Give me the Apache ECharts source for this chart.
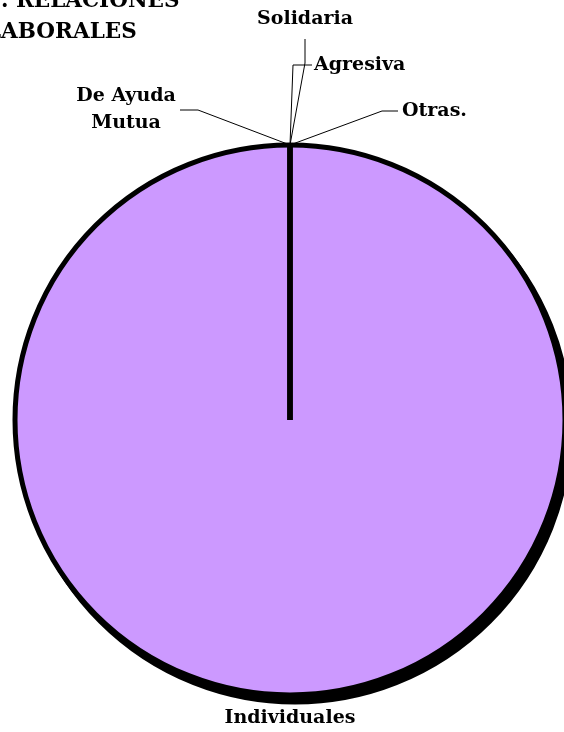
<!DOCTYPE html>
<html><head><meta charset="utf-8">
<script src="https://cdn.jsdelivr.net/npm/echarts@6/dist/echarts.min.js"></script>
<style>html,body{margin:0;padding:0;background:#fff;overflow:hidden}#c{width:564px;height:732px}</style>
</head><body><div id="c"></div>
<script>
// ---- data ----
const titleText = '1. RELACIONES\nLABORALES';
const categories = ['Individuales', 'De Ayuda\nMutua', 'Solidaria', 'Agresiva', 'Otras.'];
const values = [100, 0, 0, 0, 0];
const sliceColors = ['#CC99FF', '#9999FF', '#993366', '#FFFFCC', '#CCFFFF'];

// ---- layout / style ----
const FONT = '"DejaVu Serif", "Liberation Serif", serif';
const CX = 290, CY = 420, R = 275;
// label placement relative to the label-line anchor (dx, dy), per category
const labelPlace = {
  'Individuales':     { text: [0, 23], align: 'center', line: null },
  'De Ayuda\nMutua':  { text: [-164, -35], align: 'center', line: [[-92, -35], [-110, -35]] },
  'Solidaria':        { text: [15, -126], align: 'center', line: [[15, -82], [15, -106]] },
  'Agresiva':         { text: [24, -80], align: 'left', line: [[3, -80], [22, -80]] },
  'Otras.':           { text: [112, -34], align: 'left', line: [[92, -34], [108, -34]] }
};

const pieData = categories.map((c, i) => ({
  name: c, value: values[i],
  itemStyle: { color: sliceColors[i] },
  labelLine: { show: c !== 'Individuales' }
}));
const shadowData = categories.map((c, i) => ({ name: c, value: values[i] }));

const chart = echarts.init(document.getElementById('c'), null, { renderer: 'canvas' });
chart.setOption({
  animation: false,
  backgroundColor: '#ffffff',
  title: {
    text: titleText, left: -14, top: -14, padding: 0,
    textStyle: { fontFamily: FONT, fontWeight: 'bold', fontSize: 21.5, lineHeight: 31, color: '#000' }
  },
  series: [
    {
      type: 'pie', silent: true, z: 1,
      center: [CX + 5, CY + 7], radius: R,
      startAngle: 90, clockwise: true,
      itemStyle: { color: '#000', borderColor: '#000', borderWidth: 5 },
      label: { show: false }, labelLine: { show: false },
      emphasis: { disabled: true },
      data: shadowData
    },
    {
      type: 'pie', silent: true, z: 2,
      center: [CX, CY], radius: R,
      startAngle: 90, clockwise: true,
      avoidLabelOverlap: false,
      minShowLabelAngle: 0,
      itemStyle: { borderColor: '#000', borderWidth: 5, borderJoin: 'bevel' },
      label: {
        show: true, position: 'outside', color: '#000',
        fontFamily: FONT, fontWeight: 'bold', fontSize: 19, lineHeight: 27
      },
      labelLine: { show: true, length: 10, length2: 10, smooth: false,
        lineStyle: { color: '#000', width: 1 } },
      emphasis: { disabled: true },
      labelLayout: function (p) {
        const name = categories[p.dataIndex];
        const pl = labelPlace[name];
        let ax, ay;
        if (p.labelLinePoints && p.labelLinePoints[0]) {
          ax = p.labelLinePoints[0][0]; ay = p.labelLinePoints[0][1];
        } else if (name === 'Individuales') {
          ax = CX; ay = CY + R;
        } else {
          ax = CX; ay = CY - R;
        }
        const out = {
          x: ax + pl.text[0], y: ay + pl.text[1],
          align: pl.align, verticalAlign: 'middle'
        };
        if (pl.line) {
          out.labelLinePoints = [[ax, ay],
            [ax + pl.line[0][0], ay + pl.line[0][1]],
            [ax + pl.line[1][0], ay + pl.line[1][1]]];
        }
        return out;
      },
      data: pieData
    }
  ]
});
</script>
</body></html>
